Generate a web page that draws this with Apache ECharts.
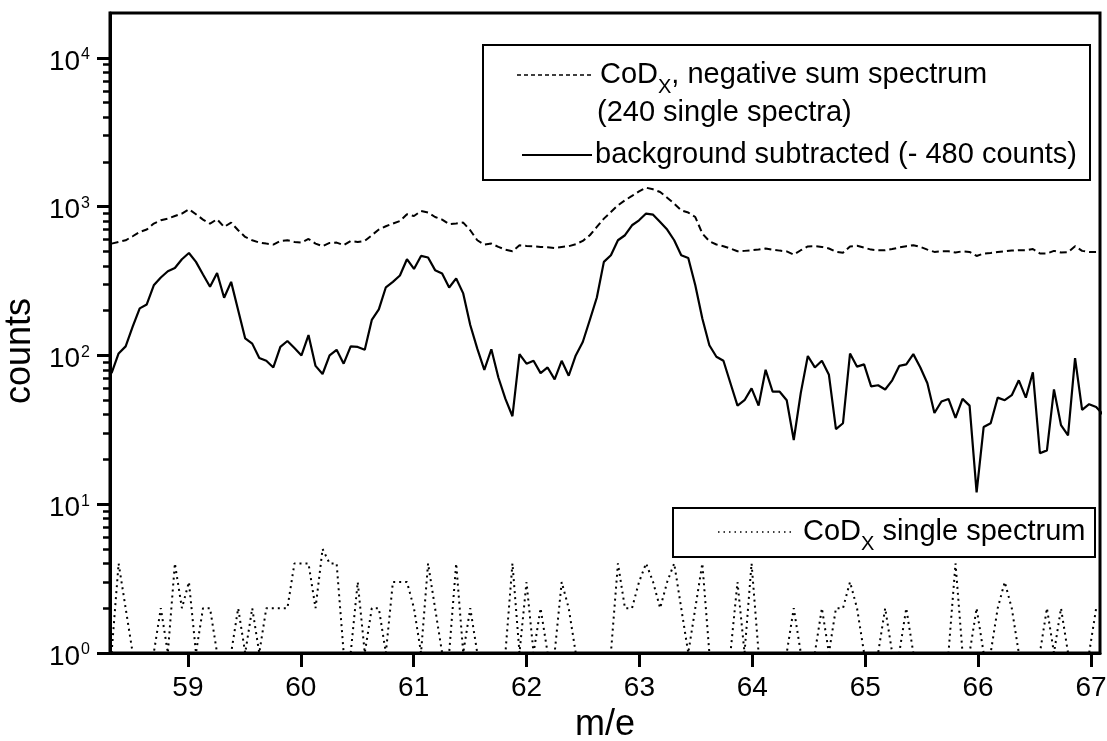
<!DOCTYPE html>
<html>
<head>
<meta charset="utf-8">
<script src="https://cdn.jsdelivr.net/npm/echarts@6/dist/echarts.min.js"></script>
<style>
html,body{margin:0;padding:0;background:#fff;}
#chart{width:1107px;height:741px;}
</style>
</head>
<body>
<div id="chart"></div>
<script>
// mass grid of the spectra (uniform sampling)
const MASS_START = 58.324;
const MASS_STEP = 0.0623;

// CoDx, negative sum spectrum (240 single spectra) - dashed
const sumSpectrum = [
  564,579,594,632,676,701,769,809,830,865,898,959,888,818,769,822,730,781,693,625,
  594,573,564,556,588,594,579,573,606,564,542,570,573,550,588,579,588,642,701,738,
  769,800,888,865,934,912,851,818,761,769,781,693,594,556,564,536,514,501,550,544,
  542,536,533,527,536,542,559,588,642,730,830,920,1020,1102,1180,1265,1340,1306,1253,1148,
  1047,944,912,851,659,585,556,542,523,501,504,509,514,523,514,506,500,476,509,540,
  542,536,523,497,490,540,545,530,514,509,509,519,531,542,550,536,514,496,501,501,
  491,501,496,466,484,488,496,501,507,509,509,519,484,484,504,491,494,542,504,496,
  496,496
];

// background subtracted (- 480 counts) - solid
const subtracted = [
  76,103,115,156,207,220,296,334,368,387,443,488,425,350,289,358,244,312,201,130,
  120,96,92,83,114,125,112,100,137,85,75,100,109,88,115,114,109,173,204,287,
  312,344,443,381,466,455,374,355,286,329,261,160,111,80,110,71,51,39,102,88,
  92,76,83,69,92,73,100,123,173,245,425,471,594,642,749,809,898,883,788,701,
  594,471,452,296,177,117,98,92,65,46,50,60,46,80,57,57,50,27,56,99,
  83,92,74,32,35,103,84,87,62,63,59,68,85,87,102,83,65,41,49,51,
  38,51,46,12,33,35,52,50,54,68,52,77,22,23,59,34,29,96,43,47,
  45,40
];

// CoDx single spectrum - dotted
const singleSpectrum = [
  1,4,2,1,1,1,1,2,1,4,2,3,1,2,2,1,1,1,2,1,
  2,1,2,2,2,2,4,4,4,2,5,4,4,1,1,3,1,2,2,1,
  3,3,3,2,1,4,2,1,1,4,1,2,1,1,1,1,1,4,1,3,
  1,2,1,1,3,2,1,1,1,1,1,1,4,2,2,3,4,3,2,3,
  4,2,1,2,4,1,1,1,1,3,1,4,1,1,1,1,1,2,1,1,
  1,2,1,2,2,3,2,1,1,1,2,1,1,2,1,1,1,1,1,1,
  4,1,1,2,1,1,2,3,2,1,1,1,1,2,1,2,1,1,1,1,
  2,2
];

const xTickValues = [59,60,61,62,63,64,65,66,67];
const yTickValues = [1,10,100,1000,10000];
const yMinorTickValues = [2,3,4,5,6,7,8,9,20,30,40,50,60,70,80,90,
  200,300,400,500,600,700,800,900,2000,3000,4000,5000,6000,7000,8000,9000];

const FONT = 'Liberation Sans, Arial, Helvetica, sans-serif';

function pairs(arr){
  return arr.map((v,i)=>[+(MASS_START + i*MASS_STEP).toFixed(4), v]);
}

const chart = echarts.init(document.getElementById('chart'), null, {renderer:'canvas'});

const option = {
  backgroundColor:'#fff',
  animation:false,
  grid:{left:110,right:7,top:13,bottom:88,show:true,borderColor:'#000',borderWidth:3,
        containLabel:false, outerBoundsMode:'none'},
  xAxis:{
    type:'value', min:58.31, max:67.08,
    axisLine:{show:true,onZero:false,lineStyle:{color:'#000',width:3}},
    axisTick:{show:true,inside:false,length:14,customValues:xTickValues,lineStyle:{color:'#000',width:3}},
    axisLabel:{show:true,customValues:xTickValues,color:'#000',fontSize:28,fontFamily:FONT,margin:21},
    splitLine:{show:false},
    name:'m/e', nameLocation:'middle', nameGap:46,
    nameTextStyle:{color:'#000',fontSize:36,fontFamily:FONT}
  },
  yAxis:[
    {
      type:'log', logBase:10, min:1, max:20000,
      axisLine:{show:true,lineStyle:{color:'#000',width:3}},
      axisTick:{show:true,inside:false,length:13,customValues:yTickValues,lineStyle:{color:'#000',width:3}},
      axisLabel:{
        show:true, customValues:yTickValues, margin:20, color:'#000',
        formatter:function(v){ return '{b|10}{s|' + Math.round(Math.log10(v)) + '}'; },
        rich:{
          b:{fontSize:28,fontFamily:FONT,color:'#000',lineHeight:30,padding:[8,0,0,0]},
          s:{fontSize:16,fontFamily:FONT,color:'#000',lineHeight:16,verticalAlign:'top',padding:[4,0,0,1]}
        }
      },
      splitLine:{show:false},
      name:'counts', nameLocation:'middle', nameGap:59,
      nameTextStyle:{color:'#000',fontSize:36,fontFamily:FONT,padding:[0,36,0,0]}
    },
    {
      type:'log', logBase:10, min:1, max:20000, position:'left',
      axisLine:{show:false},
      axisTick:{show:true,inside:false,length:7,customValues:yMinorTickValues,lineStyle:{color:'#000',width:2.5}},
      axisLabel:{show:false},
      splitLine:{show:false}
    }
  ],
  series:[
    {
      name:'CoDx, negative sum spectrum', type:'line', yAxisIndex:0,
      data:pairs(sumSpectrum), symbol:'none', smooth:false,
      lineStyle:{color:'#000',width:2,type:[7,4]}
    },
    {
      name:'background subtracted (- 480 counts)', type:'line', yAxisIndex:0,
      data:pairs(subtracted), symbol:'none', smooth:false,
      lineStyle:{color:'#000',width:2.2,type:'solid'}
    },
    {
      name:'CoDx single spectrum', type:'line', yAxisIndex:0,
      data:pairs(singleSpectrum), symbol:'none', smooth:false,
      lineStyle:{color:'#000',width:2,type:[2,4]}
    }
  ],
  graphic:[
    // legend box 1
    {type:'rect', shape:{x:483,y:45,width:607,height:135}, style:{fill:'#fff',stroke:'#000',lineWidth:2}, z:10},
    {type:'line', shape:{x1:517,y1:75,x2:591,y2:75}, style:{stroke:'#000',lineWidth:1.5,lineDash:[4,3]}, z:11},
    {type:'text', x:600, y:75, z:11, style:{
      text:'{n|CoD}{s|X}{n|, negative sum spectrum}', textVerticalAlign:'middle', textAlign:'left',
      rich:{n:{fontSize:29,fontFamily:FONT,fill:'#000',lineHeight:32},
            s:{fontSize:20,fontFamily:FONT,fill:'#000',lineHeight:20,padding:[25,0,0,0]}}}},
    {type:'text', x:597, y:113, z:11, style:{
      text:'(240 single spectra)', font:'29px '+FONT, fill:'#000', textVerticalAlign:'middle', textAlign:'left'}},
    {type:'line', shape:{x1:522,y1:155,x2:592,y2:155}, style:{stroke:'#000',lineWidth:2}, z:11},
    {type:'text', x:595, y:155, z:11, style:{
      text:'background subtracted (- 480 counts)', font:'29px '+FONT, fill:'#000', textVerticalAlign:'middle', textAlign:'left'}},
    // legend box 2
    {type:'rect', shape:{x:673,y:508,width:422,height:49}, style:{fill:'#fff',stroke:'#000',lineWidth:2}, z:10},
    {type:'line', shape:{x1:718,y1:532,x2:794,y2:532}, style:{stroke:'#000',lineWidth:1.5,lineDash:[1.5,4]}, z:11},
    {type:'text', x:803, y:532, z:11, style:{
      text:'{n|CoD}{s|X}{n| single spectrum}', textVerticalAlign:'middle', textAlign:'left',
      rich:{n:{fontSize:29,fontFamily:FONT,fill:'#000',lineHeight:32},
            s:{fontSize:20,fontFamily:FONT,fill:'#000',lineHeight:20,padding:[25,0,0,0]}}}}
  ]
};
chart.setOption(option);
</script>
</body>
</html>
